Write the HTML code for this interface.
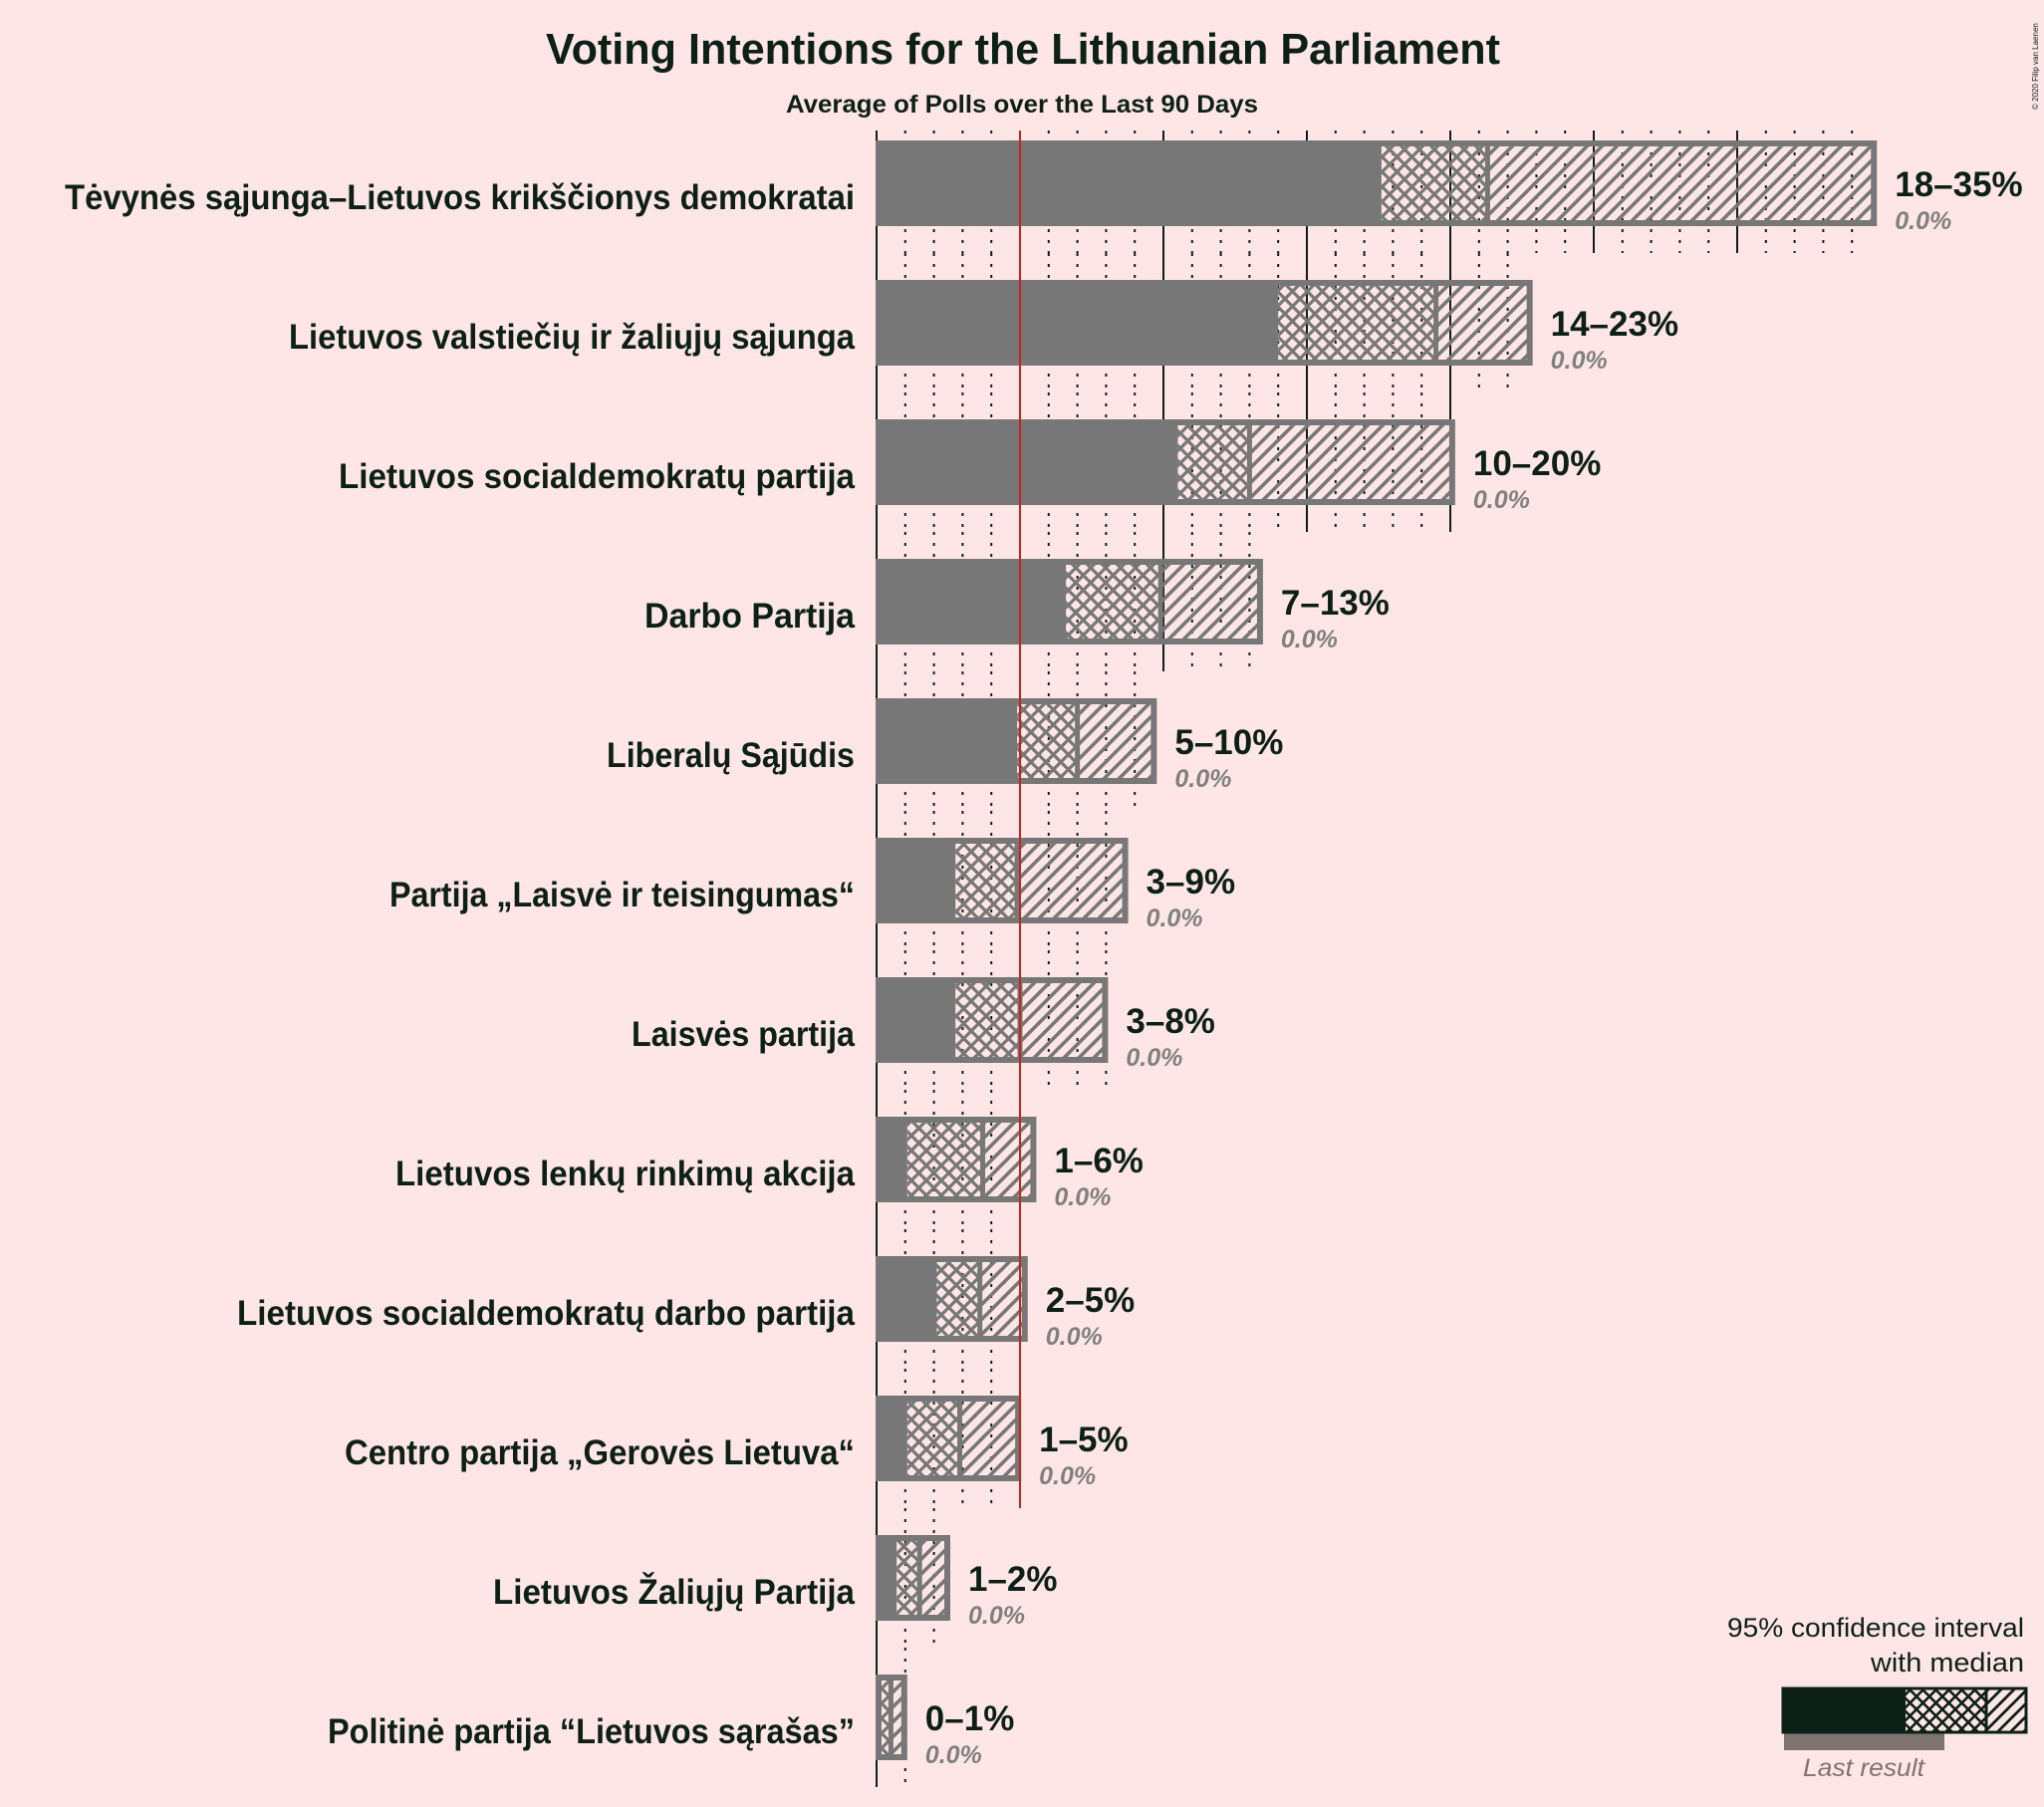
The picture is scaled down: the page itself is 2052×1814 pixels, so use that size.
<!DOCTYPE html>
<html><head><meta charset="utf-8"><style>
html,body{margin:0;padding:0;background:#fde6e5;}
svg{display:block;font-family:"Liberation Sans",sans-serif;}
</style></head><body>
<svg id="chart" width="2052" height="1814" viewBox="0 0 2052 1814" xmlns="http://www.w3.org/2000/svg">
<defs>
<pattern id="cross" patternUnits="userSpaceOnUse" width="15" height="15">
<path d="M0,0 L15,15 M15,0 L0,15 M-2,2 L2,-2 M13,17 L17,13 M-2,13 L2,17 M13,-2 L17,2" stroke="#777" stroke-width="3.2"/>
</pattern>
<pattern id="hatch" patternUnits="userSpaceOnUse" width="15" height="15">
<path d="M0,15 L15,0 M-4,4 L4,-4 M11,19 L19,11" stroke="#777" stroke-width="3.6"/>
</pattern>
<pattern id="crossD" patternUnits="userSpaceOnUse" width="13" height="13">
<path d="M0,0 L13,13 M13,0 L0,13" stroke="#0d2018" stroke-width="2.6"/>
</pattern>
<pattern id="hatchD" patternUnits="userSpaceOnUse" width="13" height="13">
<path d="M0,13 L13,0 M-4,4 L4,-4 M9,17 L17,9" stroke="#0d2018" stroke-width="2.8"/>
</pattern>
</defs>
<text x="1027" y="64" text-anchor="middle" font-size="44" font-weight="bold" fill="#0d2018" textLength="958" lengthAdjust="spacingAndGlyphs">Voting Intentions for the Lithuanian Parliament</text>
<text x="1026" y="113" text-anchor="middle" font-size="25" font-weight="bold" fill="#0d2018" textLength="474" lengthAdjust="spacingAndGlyphs">Average of Polls over the Last 90 Days</text>
<text transform="translate(2046,110) rotate(-90)" font-size="8" fill="#0d2018">© 2020 Filip van Laenen</text>
<g id="grid"></g>
<g id="bars"></g>
<g id="labels"></g>
<g>
<text x="2032" y="1643" text-anchor="end" font-size="27" fill="#0d2018" textLength="298" lengthAdjust="spacingAndGlyphs">95% confidence interval</text>
<text x="2032" y="1678" text-anchor="end" font-size="27" fill="#0d2018" textLength="154" lengthAdjust="spacingAndGlyphs">with median</text>
<rect x="1791" y="1740" width="161" height="17" fill="#7f7370"/>
<rect x="1790" y="1695" width="123" height="44" fill="#0d2018"/>
<rect x="1913" y="1695" width="81" height="44" fill="url(#crossD)"/>
<rect x="1994" y="1695" width="40" height="44" fill="url(#hatchD)"/>
<rect x="1790" y="1695" width="244" height="44" fill="none" stroke="#0d2018" stroke-width="3"/>
<line x1="1994" y1="1695" x2="1994" y2="1739" stroke="#0d2018" stroke-width="3"/>
<text x="1871" y="1783" text-anchor="middle" font-size="25" font-style="italic" fill="#7f7370" textLength="122" lengthAdjust="spacingAndGlyphs">Last result</text>
</g>
</svg>
<script>
const parties = ["Tėvynės sąjunga–Lietuvos krikščionys demokratai","Lietuvos valstiečių ir žaliųjų sąjunga","Lietuvos socialdemokratų partija","Darbo Partija","Liberalų Sąjūdis","Partija „Laisvė ir teisingumas“","Laisvės partija","Lietuvos lenkų rinkimų akcija","Lietuvos socialdemokratų darbo partija","Centro partija „Gerovės Lietuva“","Lietuvos Žaliųjų Partija","Politinė partija “Lietuvos sąrašas”"];
const lowValues = [17.6,14.0,10.5,6.6,4.9,2.75,2.75,1.07,2.1,1.07,0.7,0.17];
const medianValues = [21.3,19.5,13.0,9.9,7.0,4.9,5.0,3.7,3.6,2.9,1.5,0.5];
const highValues = [34.8,22.8,20.1,13.4,9.7,8.7,8.0,5.5,5.2,4.97,2.5,1.0];
const rangeLabels = ["18–35%","14–23%","10–20%","7–13%","5–10%","3–9%","3–8%","1–6%","2–5%","1–5%","1–2%","0–1%"];
const lastResults = ["0.0%","0.0%","0.0%","0.0%","0.0%","0.0%","0.0%","0.0%","0.0%","0.0%","0.0%","0.0%"];
const threshold = 5;

const labelWidths=[793,568,518,211,249,467,224,461,620,512,363,529];
const NS="http://www.w3.org/2000/svg";
const x0=880, pxPer=28.8;
function xs(v){return x0+v*pxPer;}
function rowCenter(i){return 184+140*i;}
function mk(tag,attrs,parent){const e=document.createElementNS(NS,tag);for(const k in attrs)e.setAttribute(k,attrs[k]);parent.appendChild(e);return e;}
const grid=document.getElementById('grid'),bars=document.getElementById('bars'),labels=document.getElementById('labels');
const axisTop=131;
let redBottom=axisTop;
parties.forEach((p,i)=>{
  const c=rowCenter(i);
  const y1=Math.max(axisTop,c-70), y2=c+70;
  const maxT=Math.floor(highValues[i]+0.1);
  for(let t=1;t<=maxT;t++){
    if(t===threshold) continue;
    const major=t%5===0;
    const l=mk('line',{x1:xs(t),x2:xs(t),y1:y1,y2:y2,stroke:'#0d2018','stroke-width':2,'stroke-dasharray':major?'none':'3,8'},grid);
    
    
  }
  if(highValues[i]>=threshold-0.1) redBottom=y2;
});
const axis=mk('line',{x1:x0,x2:x0,y1:axisTop,y2:rowCenter(parties.length-1)+70,stroke:'#0d2018','stroke-width':2},grid);



parties.forEach((p,i)=>{
  const c=rowCenter(i), top=c-43, h=86;
  const g=mk('g',{},bars);
  
  
  const s=mk('rect',{x:x0,y:top,width:xs(lowValues[i])-x0,height:h,fill:'#777'},g);
  
  
  const cr=mk('rect',{x:xs(lowValues[i]),y:top,width:xs(medianValues[i])-xs(lowValues[i]),height:h,fill:'url(#cross)'},g);
  
  
  const ht=mk('rect',{x:xs(medianValues[i]),y:top,width:xs(highValues[i])-xs(medianValues[i]),height:h,fill:'url(#hatch)'},g);
  
  
  const o=mk('rect',{x:x0+2,y:top+3,width:xs(highValues[i])-x0-3,height:h-6,fill:'none',stroke:'#777','stroke-width':6},g);
  
  
  const m=mk('line',{x1:xs(medianValues[i]),x2:xs(medianValues[i]),y1:top,y2:top+h,stroke:'#777','stroke-width':5},g);
  
  

  const t=mk('text',{x:858,y:c+26,'text-anchor':'end','font-size':35,'font-weight':'bold',fill:'#0d2018',textLength:labelWidths[i],lengthAdjust:'spacingAndGlyphs'},labels);
  t.textContent=p;
  
  
  const hx=xs(highValues[i])+20;
  const r=mk('text',{x:hx,y:c+13,'font-size':35,'font-weight':'bold',fill:'#0d2018'},labels);
  r.textContent=rangeLabels[i];
  
  
  const lr=mk('text',{x:hx,y:c+46,'font-size':25,'font-weight':'bold','font-style':'italic',fill:'#808080'},labels);
  lr.textContent=lastResults[i];
  
  
});
const red=mk('line',{x1:xs(threshold),x2:xs(threshold),y1:axisTop,y2:redBottom,stroke:'#c0281e','stroke-width':2},bars);


</script>
</body></html>
